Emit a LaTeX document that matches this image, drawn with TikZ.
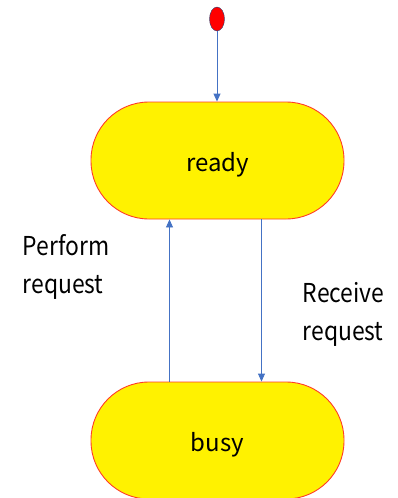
\documentclass[tikz,border=0pt]{standalone}
\usepackage{fontspec}
\setmainfont{Noto Sans CJK KR}
\usetikzlibrary{arrows.meta,shapes.geometric}
\definecolor{arrowblue}{RGB}{68,114,196}
\definecolor{edgered}{RGB}{255,60,40}
\newcommand{\lbltext}[1]{\scalebox{0.88}[1]{\begin{tabular}[t]{@{}l@{}}#1\end{tabular}}}
\begin{document}
\begin{tikzpicture}[x=1pt,y=-1pt,
  state/.style={draw=edgered,line width=0.9pt,fill=yellow,rounded corners=58pt,minimum width=253pt,minimum height=117pt,text height=24pt,text depth=2.5pt,font=\fontsize{24}{28}\selectfont},
  conn/.style={draw=arrowblue,line width=0.9pt,-{Triangle[width=7pt,length=8pt]}},
  lbl/.style={font=\fontsize{26}{38}\selectfont,inner sep=0pt,anchor=base west}]
\useasboundingbox (0,0) rectangle (397,498);
\node[draw=arrowblue!60!black,line width=0.4pt,fill=red,ellipse,minimum width=15pt,minimum height=24pt,inner sep=0pt] (start) at (217,19) {};
\node[state] (ready) at (217.5,160.5) {ready};
\node[state] (busy) at (217.5,440.5) {busy};
\draw[conn] (start.south) -- (ready.north -| start.south);
\draw[conn] (busy.north -| 169.5,0) -- (ready.south -| 169.5,0);
\draw[conn] (ready.south -| 261.5,0) -- (busy.north -| 261.5,0);
\node[lbl] (perf) at (22.5,255) {\lbltext{Perform\\request}};
\node[lbl] (recv) at (302.5,302) {\lbltext{Receive\\request}};
\end{tikzpicture}
\end{document}
